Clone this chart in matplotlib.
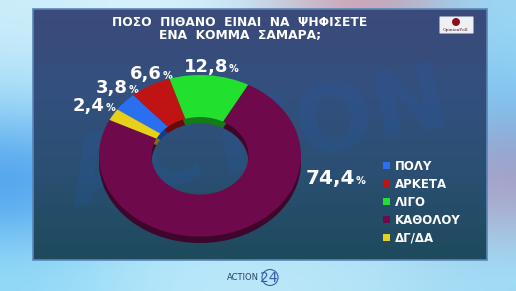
import numpy as np
import matplotlib
matplotlib.use("Agg")
import matplotlib.pyplot as plt
from matplotlib.patches import FancyBboxPatch, Rectangle, Circle
from matplotlib.colors import LinearSegmentedColormap, to_rgb

# Survey answers, in legend order
answers = ["ΠΟΛΥ", "ΑΡΚΕΤΑ", "ΛΙΓΟ", "ΚΑΘΟΛΟΥ", "ΔΓ/ΔΑ"]
shares = [3.8, 6.6, 12.8, 74.4, 2.4]
colors = ["#2a6ff0", "#c01414", "#22e02e", "#6e0a4c", "#e6d01c"]

title = "ΠΟΣΟ  ΠΙΘΑΝΟ  ΕΙΝΑΙ  ΝΑ  ΨΗΦΙΣΕΤΕ\nΕΝΑ  ΚΟΜΜΑ  ΣΑΜΑΡΑ;"

# where each value label sits (pixel coords: right edge of number, baseline)
label_pos = [(128, 93), (162, 79), (228, 72), (355, 184), (105, 111)]


def darker(c, f=0.6):
    r, g, b = to_rgb(c)
    return (r * f, g * f, b * f)


def main():
    W, H = 516, 291
    fig = plt.figure(figsize=(W / 100, H / 100), dpi=100)

    # background layer in pixel coordinates
    bg = fig.add_axes([0, 0, 1, 1])
    bg.set_xlim(0, W)
    bg.set_ylim(H, 0)
    bg.axis("off")

    # blurry studio backdrop
    sky = np.array([
        [[0.80, 0.93, 0.98], [0.88, 0.96, 0.99], [0.75, 0.90, 0.97], [0.85, 0.55, 0.60], [0.60, 0.85, 0.97]],
        [[0.60, 0.85, 0.97], [0.72, 0.89, 0.97], [0.65, 0.86, 0.96], [0.65, 0.86, 0.96], [0.45, 0.76, 0.95]],
        [[0.20, 0.55, 0.92], [0.62, 0.85, 0.96], [0.62, 0.85, 0.96], [0.58, 0.82, 0.95], [0.70, 0.55, 0.70]],
        [[0.58, 0.86, 0.97], [0.72, 0.91, 0.98], [0.74, 0.91, 0.98], [0.72, 0.90, 0.97], [0.62, 0.87, 0.97]],
    ])
    bg.imshow(sky, extent=(0, W, H, 0), interpolation="bicubic", aspect="auto", zorder=0)

    # dark panel with vertical gradient
    panel_cmap = LinearSegmentedColormap.from_list(
        "panel", ["#3b4a7a", "#33507e", "#2a4f72", "#1e4a5c"])
    grad = np.linspace(0, 1, 100).reshape(-1, 1)
    bg.imshow(grad, cmap=panel_cmap, extent=(33, 487, 260, 9),
              aspect="auto", zorder=1)
    bg.add_patch(Rectangle((33, 9), 454, 251, fill=False,
                           edgecolor="#5a86b8", lw=1.2, zorder=2))

    # faint watermark
    bg.text(258, 140, "ACTION", fontsize=66, fontweight="bold", color="#1f5fc4",
            alpha=0.14, ha="center", va="center", rotation=12, zorder=2)

    bg.text(240, 29, title, color="white", fontsize=8.8, fontweight="bold",
            ha="center", va="center", linespacing=1.0, zorder=5)

    # OpinionPoll logo
    bg.add_patch(FancyBboxPatch((440, 17), 33, 16, boxstyle="round,pad=0.5",
                                facecolor="#eef0f4", edgecolor="none", zorder=5))
    bg.add_patch(Circle((456, 22), 3.3, color="#8a1020", zorder=6))
    bg.text(456, 30.5, "OpinionPoll", fontsize=3.2, family="DejaVu Serif",
            color="#5a2a30", ha="center", va="center", zorder=6)

    # ACTION 24 logo
    bg.text(259, 278, "ACTION", fontsize=6, color="#2a3f70", ha="right",
            va="center", zorder=5)
    bg.text(269, 278, "24", fontsize=10, color="#3a5fa8", ha="center",
            va="center", zorder=5)
    bg.add_patch(Circle((270, 277.5), 8, fill=False, edgecolor="#3a5fa8",
                        lw=0.8, zorder=5))

    # donut, squashed into an ellipse, with a darker copy for its side
    ax = fig.add_axes([99 / W, (H - 243) / H, 202 / W, 168 / H])
    ax.set_zorder(4)
    ax.pie(shares, colors=[darker(c, 0.55) for c in colors], startangle=145,
           counterclock=False, center=(0, -0.08),
           wedgeprops=dict(width=0.52, edgecolor="none"))
    wedges, _ = ax.pie(shares, colors=colors, startangle=145,
                       counterclock=False,
                       wedgeprops=dict(width=0.52, edgecolor="none"))
    ax.set_aspect("auto")
    ax.set_xlim(-1, 1)
    ax.set_ylim(-1.08, 1)
    ax.axis("off")

    # value labels
    for v, (x, y) in zip(shares, label_pos):
        big = 14.5 if v > 50 else 13
        bg.text(x, y, f"{v:.1f}".replace(".", ","), color="white",
                fontsize=big, fontweight="bold", ha="right", va="baseline",
                zorder=6)
        bg.text(x + 0.5, y, "%", color="white", fontsize=7, fontweight="bold",
                ha="left", va="baseline", zorder=6)

    leg = fig.legend(wedges, answers, loc="upper left",
                     bbox_to_anchor=(378 / W, 1 - 155 / H), frameon=False,
                     prop={"weight": "bold", "size": 8.5}, labelcolor="white",
                     handlelength=0.6, handleheight=0.6, handletextpad=0.45,
                     labelspacing=0.42, borderaxespad=0)
    leg.set_zorder(6)

    fig.savefig("out.png", dpi=100)


if __name__ == "__main__":
    main()
